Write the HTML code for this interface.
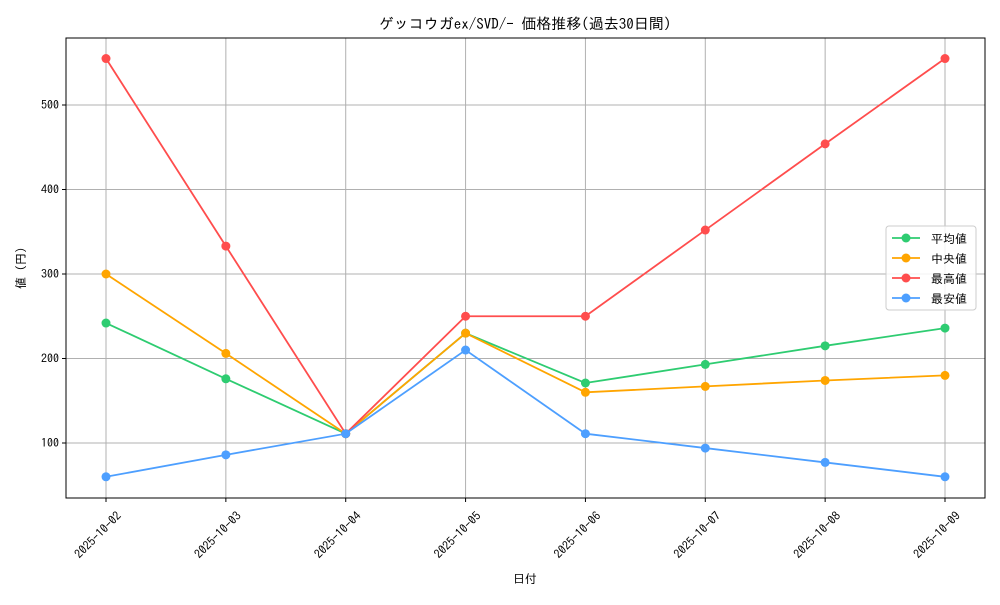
<!DOCTYPE html>
<html><head><meta charset="utf-8"><style>
body{margin:0;background:#fff;}
svg text{font-family:"IPAGothic","Noto Sans CJK JP",sans-serif;fill:#000;}
</style></head><body>
<svg id="c" width="1000" height="600" xmlns="http://www.w3.org/2000/svg"></svg>
<script>
const categories=["2025-10-02","2025-10-03","2025-10-04","2025-10-05","2025-10-06","2025-10-07","2025-10-08","2025-10-09"];
const avgValues=[242,176,111,230,171,193,215,236];
const medianValues=[300,206,111,230,160,167,174,180];
const maxValues=[555,333,111,250,250,352,454,555];
const minValues=[60,86,111,210,111,94,77,60];
const yTicks=[100,200,300,400,500];
const seriesNames=["平均値","中央値","最高値","最安値"];
const NS="http://www.w3.org/2000/svg";
const svg=document.getElementById('c');
const L=66,R=985,T=38,B=498;
const xScale=i=>106+i*(945-106)/(categories.length-1);
const yScale=v=>443-(v-100)*(338/400);
function el(tag,attrs,parent){const e=document.createElementNS(NS,tag);for(const k in attrs)e.setAttribute(k,attrs[k]);(parent||svg).appendChild(e);return e;}
categories.forEach((c,i)=>{
  const g=el('line',{x1:xScale(i),x2:xScale(i),y1:T,y2:B,stroke:'#b0b0b0','stroke-width':1});
  
  
  const tk=el('line',{x1:xScale(i),x2:xScale(i),y1:B,y2:B+4,stroke:'#000'});
  
  
  const cx=xScale(i)-8, cy=B+37;
  const t=el('text',{x:cx,y:cy+4,'font-size':12,'text-anchor':'middle',transform:`rotate(-45 ${cx} ${cy})`});
  t.textContent=c;
  
  
});
yTicks.forEach(v=>{
  const g=el('line',{x1:L,x2:R,y1:yScale(v),y2:yScale(v),stroke:'#b0b0b0','stroke-width':1});
  
  
  const tk=el('line',{x1:L-4,x2:L,y1:yScale(v),y2:yScale(v),stroke:'#000'});
  
  
  const t=el('text',{x:L-7,y:yScale(v)+4,'font-size':12,'text-anchor':'end'});
  t.textContent=v;
  
  
});
const frame=el('rect',{x:L,y:T,width:R-L,height:B-T,fill:'none',stroke:'#000','stroke-width':1});


const series=[[avgValues,'#2ecc71'],[medianValues,'#ffa500'],[maxValues,'#ff4d4d'],[minValues,'#4d9fff']];
series.forEach(([vals,col],si)=>{
  const p=el('polyline',{points:vals.map((v,i)=>xScale(i)+','+yScale(v)).join(' '),fill:'none',stroke:col,'stroke-width':1.8});
  
  
  vals.forEach((v,i)=>{
    const c=el('circle',{cx:xScale(i),cy:yScale(v),r:4.5,fill:col});
    
    
  });
});
const lg=el('rect',{x:886,y:226,width:90,height:84,rx:3,fill:'#fff','fill-opacity':0.85,stroke:'#ccc'});


series.forEach(([v,col],i)=>{
  const y=238+i*20;
  const l=el('line',{x1:892,x2:920,y1:y,y2:y,stroke:col,'stroke-width':1.8});
  
  
  const c=el('circle',{cx:906,cy:y,r:4.5,fill:col});
  
  
  const t=el('text',{x:931,y:y+5,'font-size':12});
  t.textContent=seriesNames[i];
  
  
});
const title=el('text',{x:525,y:29,'font-size':15,'text-anchor':'middle'});
title.textContent='ゲッコウガex/SVD/- 価格推移(過去30日間)';


const xt=el('text',{x:525,y:583,'font-size':12,'text-anchor':'middle'});
xt.textContent='日付';


const yt=el('text',{x:25,y:268,'font-size':12,'text-anchor':'middle',transform:'rotate(-90 25 268)'});
yt.textContent='値 (円)';


</script>
</body></html>
